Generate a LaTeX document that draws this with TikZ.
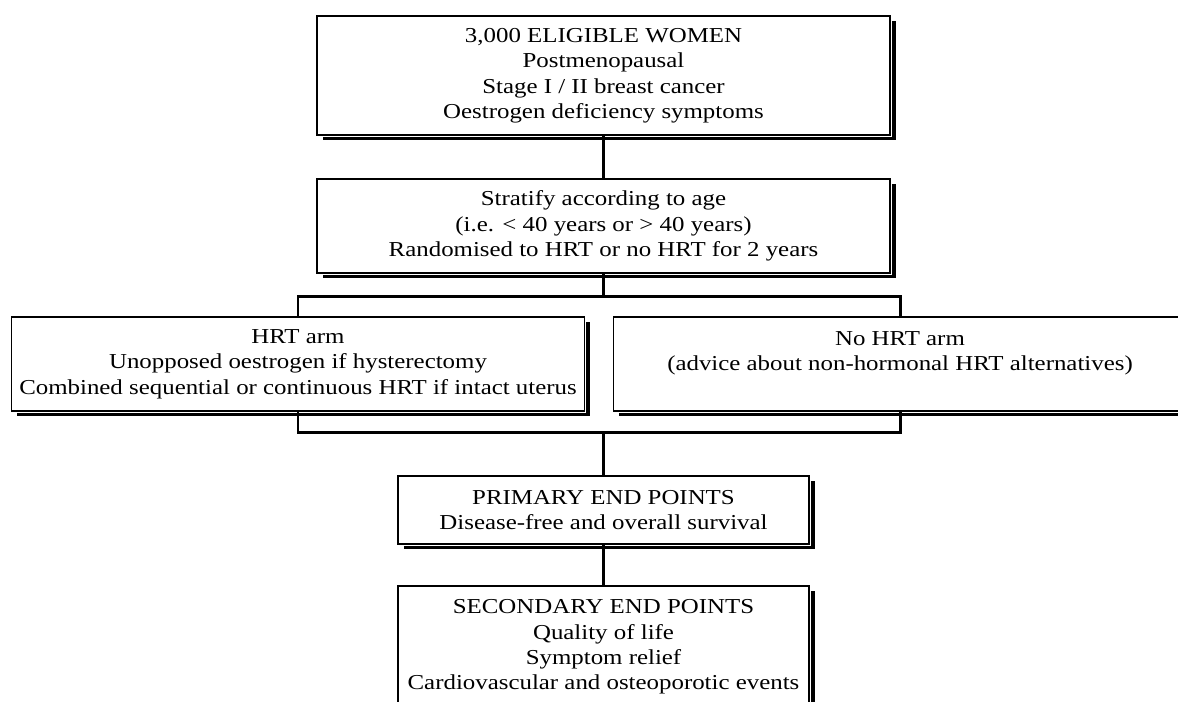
\documentclass[tikz,border=0pt]{standalone}
\usepackage{fontspec}
\setmainfont[FakeStretch=1.17]{Liberation Serif}
\usetikzlibrary{shadows}

\begin{document}
\begin{tikzpicture}[
        box_style/.style={rectangle, draw=black, line width=0.8pt, fill=white, align=center, inner sep=0pt,
            font=\fontsize{12.1}{14.5}\selectfont,
            drop shadow={shadow xshift=0.11cm, shadow yshift=-0.11cm, fill=black, opacity=1},
            preaction={draw=white, line width=2pt}},
        wide_box/.style={box_style, minimum width=11.46cm},
        narrow_box/.style={box_style, minimum width=8.22cm},
        line_style/.style={draw=black, line width=1.7pt}]

        \clip (0,0) rectangle (23.56,14.04);

        \node [wide_box, minimum height=2.38cm](women) at (12.07,12.53) {3,000 ELIGIBLE WOMEN\\Postmenopausal\\Stage I / II breast cancer\\Oestrogen deficiency symptoms};
        \node [wide_box, minimum height=1.88cm](stratify) at (12.07,9.52) {Stratify according to age\\(i.e. < 40 years or > 40 years)\\Randomised to HRT or no HRT for 2 years};
        \node [wide_box, minimum height=1.88cm](hrt) at (5.96,6.76) {HRT arm\\Unopposed oestrogen if hysterectomy\\Combined sequential or continuous HRT if intact uterus};
        \node [wide_box, minimum height=1.88cm](nohrt) at (18.0,6.76) {No HRT arm\\(advice about non-hormonal HRT alternatives)\\\mbox{}};
        \node [narrow_box, minimum height=1.36cm](primary) at (12.07,3.84) {PRIMARY END POINTS\\Disease-free and overall survival};
        \node [narrow_box, minimum height=2.44cm](secondary) at (12.07,1.1) {SECONDARY END POINTS\\Quality of life\\Symptom relief\\Cardiovascular and osteoporotic events};

        \coordinate (split) at (12.07,8.1);
        \coordinate (join) at (12.07,5.38);

        \draw [line_style] (women) -- (stratify);
        \draw [line_style] (stratify) -- (split);
        \draw [line_style] (hrt.north) |- (split) -| (nohrt.north);
        \draw [line_style] (hrt.south) |- (join) -| (nohrt.south);
        \draw [line_style] (join) -- (primary.north);
        \draw [line_style] (primary) -- (secondary);
        \end{tikzpicture}
\end{document}
